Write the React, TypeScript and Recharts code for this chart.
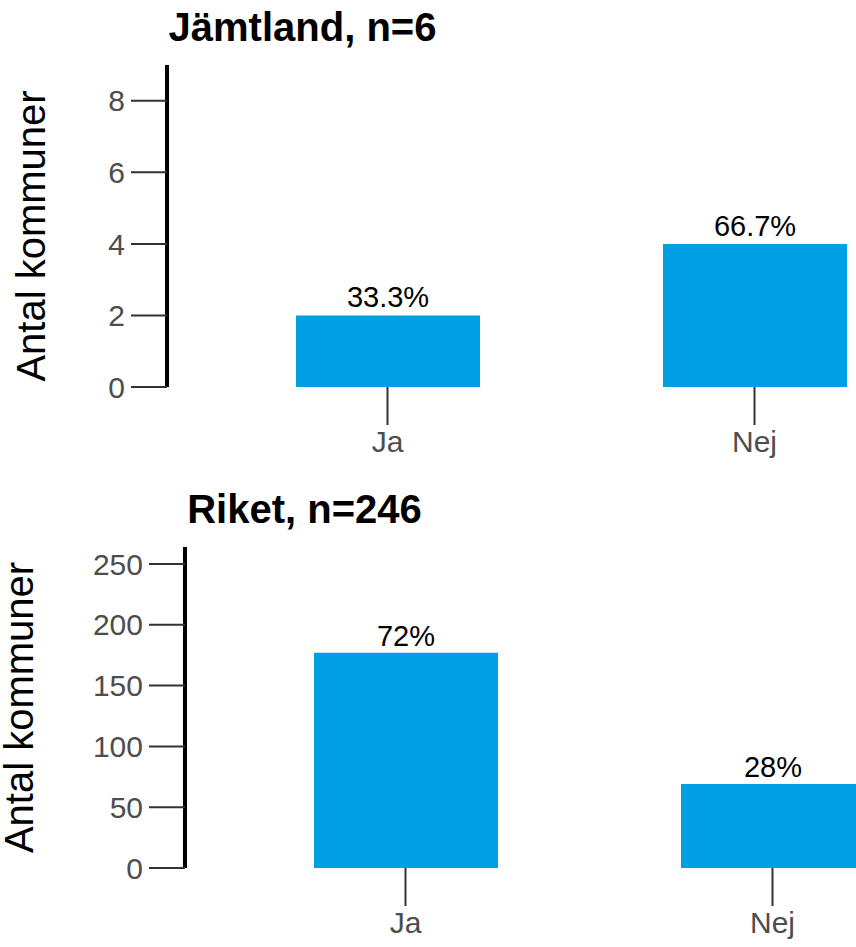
import React from 'react';
import { BarChart, Bar, XAxis, YAxis, LabelList } from 'recharts';

const categories = ['Ja', 'Nej'];
const jamtlandValues = [2, 4];
const jamtlandPct = ['33.3%', '66.7%'];
const riketValues = [177, 69];
const riketPct = ['72%', '28%'];
const jamtlandTicks = [0, 2, 4, 6, 8];
const riketTicks = [0, 50, 100, 150, 200, 250];

const FONT = '"Liberation Sans", Arial, Helvetica, sans-serif';
const BAR = '#009FE3';

const jamtlandData = categories.map((c, i) => ({ cat: c, value: jamtlandValues[i], pct: jamtlandPct[i] }));
const riketData = categories.map((c, i) => ({ cat: c, value: riketValues[i], pct: riketPct[i] }));

function YTitle(cx: number, dyShift: number) {
  return (props: any) => {
    const vb = props.viewBox || {};
    const cy = vb.y + vb.height / 2 + dyShift;
    return (
      <text
        x={cx}
        y={cy}
        transform={`rotate(-90, ${cx}, ${cy})`}
        textAnchor="middle"
        dominantBaseline="central"
        fontFamily={FONT}
        fontSize={40}
        fill="#000"
      >
        Antal kommuner
      </text>
    );
  };
}

function Panel(props: {
  data: any[];
  width: number;
  height: number;
  top: number;
  marginTop: number;
  yWidth: number;
  xHeight: number;
  domainMax: number;
  ticks: number[];
  labelX: number;
  labelShift: number;
  padLeft: number;
  padRight: number;
  labelOffset: number;
}) {
  return (
    <div style={{ position: 'absolute', left: 0, top: props.top }}>
      <BarChart
        width={props.width}
        height={props.height}
        data={props.data}
        margin={{ top: props.marginTop, right: 0, bottom: 0, left: 0 }}
      >
        <XAxis
          dataKey="cat"
          height={props.xHeight}
          axisLine={false}
          tickLine={{ stroke: '#333333', strokeWidth: 2 }}
          tickSize={38}
          tickMargin={6}
          padding={{ left: props.padLeft, right: props.padRight }}
          tick={{ fill: '#4D4D4D', fontSize: 30, fontFamily: FONT }}
          interval={0}
        />
        <YAxis
          width={props.yWidth}
          domain={[0, props.domainMax]}
          ticks={props.ticks}
          interval={0}
          axisLine={{ stroke: '#000000', strokeWidth: 4 }}
          tickLine={{ stroke: '#333333', strokeWidth: 2 }}
          tickSize={36}
          tickMargin={6}
          tick={{ fill: '#4D4D4D', fontSize: 30, fontFamily: FONT }}
          label={{ content: YTitle(props.labelX, props.labelShift) }}
        />
        <Bar dataKey="value" fill={BAR} barSize={184} isAnimationActive={false}>
          <LabelList
            dataKey="pct"
            position="top"
            offset={props.labelOffset}
            fill="#000"
            fontSize={29}
            fontFamily={FONT}
          />
        </Bar>
      </BarChart>
    </div>
  );
}

export default function App() {
  return (
    <div
      style={{
        position: 'absolute',
        left: 0,
        top: 0,
        width: 856,
        height: 947,
        overflow: 'hidden',
        background: '#fff',
      }}
    >
      <Panel
        data={jamtlandData}
        width={978}
        height={480}
        top={0}
        marginTop={65}
        yWidth={167}
        xHeight={93}
        domainMax={9}
        ticks={jamtlandTicks}
        labelX={31}
        labelShift={10}
        padLeft={37}
        padRight={40}
        labelOffset={8}
      />
      <Panel
        data={riketData}
        width={996}
        height={467}
        top={480}
        marginTop={67}
        yWidth={185}
        xHeight={79}
        domainMax={264}
        ticks={riketTicks}
        labelX={19}
        labelShift={0}
        padLeft={37}
        padRight={40}
        labelOffset={7}
      />
      <svg
        width={856}
        height={947}
        style={{ position: 'absolute', left: 0, top: 0, pointerEvents: 'none' }}
      >
        <text x={302.5} y={41} textAnchor="middle" fontFamily={FONT} fontWeight="bold" fontSize={40} fill="#000">
          Jämtland, n=6
        </text>
        <text x={304.5} y={523} textAnchor="middle" fontFamily={FONT} fontWeight="bold" fontSize={40} fill="#000">
          Riket, n=246
        </text>
      </svg>
    </div>
  );
}
